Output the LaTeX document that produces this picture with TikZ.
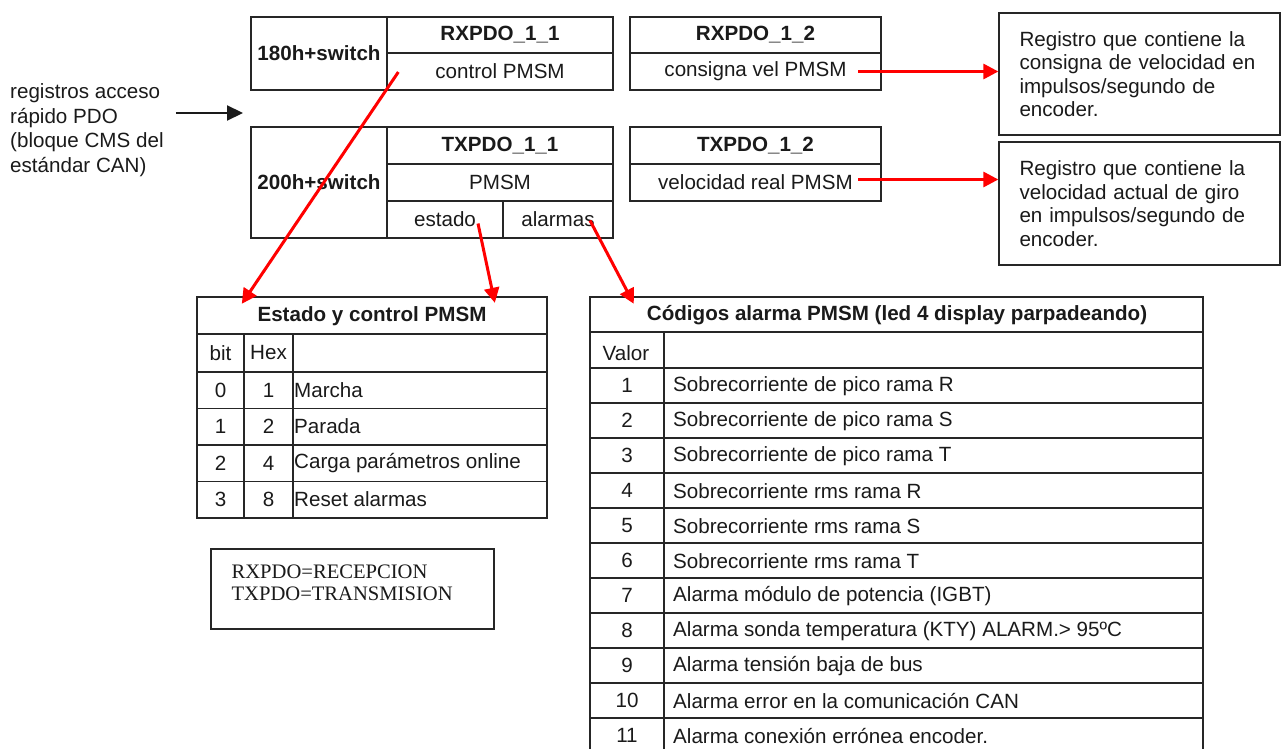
\documentclass[tikz,border=0pt]{standalone}
\usepackage{fontspec}
\setmainfont{Liberation Sans}
\newfontfamily\legendfont{Liberation Serif}
\usetikzlibrary{arrows.meta,positioning,calc}
\definecolor{ink}{HTML}{1A1A1A}
\definecolor{rule}{HTML}{262626}
\definecolor{alert}{HTML}{FF0000}

\begin{document}
\begin{tikzpicture}[
  x=1pt, y=-1pt,
  font=\fontsize{20.6}{23.5}\selectfont, text=ink,
  cell/.style={draw=rule, line width=1.3pt, inner sep=0pt, minimum width=#1},
  cell/.default=226,
  hd/.style={font=\fontsize{20.6}{23.5}\selectfont\bfseries},
  note/.style={draw=rule, line width=1.3pt, inner sep=0pt, minimum width=281,
               text width=240, align=left},
  frame/.style={draw=rule, line width=2.4pt, inner sep=0pt},
  grid/.style={draw=rule, line width=1.1pt},
  ar/.style={-{Triangle[length=15pt,width=15pt]}, draw=alert, line width=3pt},
  blk/.style={-{Triangle[length=16pt,width=15pt]}, draw=ink, line width=2.2pt},
]
\useasboundingbox (0,0) rectangle (1282,749);
\clip (0,0) rectangle (1282,749);

%% ================= PDO registers : reception =================
\node[cell=136, minimum height=73, hd] (sw1) at (319,53.5) {180h+switch};
\node[cell, minimum height=36, hd] (rx11) at (500,35) {RXPDO\_1\_1};
\node[cell, minimum height=37] (ctl) at (500,71.5) {control PMSM};
\node[cell=251, minimum height=36, hd] (rx12) at (755.5,35) {RXPDO\_1\_2};
\node[cell=251, minimum height=37] (cons) at (755.5,71.5) {consigna vel PMSM};

%% ================= PDO registers : transmission =================
\node[cell=136, minimum height=111, hd] (sw2) at (319,182.5) {200h+switch};
\node[cell, minimum height=37, hd] (tx11) at (500,145.5) {TXPDO\_1\_1};
\node[cell, minimum height=37] (pm) at (500,182.5) {PMSM};
\node[cell=116, minimum height=37] (est) at (445,219.5) {estado};
\node[cell=110, minimum height=37] (alm) at (558,219.5) {alarmas};
\node[cell=251, minimum height=37, hd] (tx12) at (755.5,145.5) {TXPDO\_1\_2};
\node[cell=251, minimum height=37] (vel) at (755.5,182.5) {velocidad real PMSM};

%% ================= side notes =================
\node[anchor=west, align=left, inner sep=0pt,
      font=\fontsize{20.6}{24.6}\selectfont] (pdo) at (10,130)
  {registros acceso\\rápido PDO\\(bloque CMS del\\estándar CAN)};
\coordinate (pdoin) at (243,113);
\draw[blk] ($(pdo.east |- pdoin)+(12,0)$) -- (pdoin);

\node[note, minimum height=122] (note1) at (1139.5,74)
  {Registro que contiene la\\consigna de velocidad en\\impulsos/segundo de\\encoder.};
\node[note, minimum height=123] (note2) at (1139.5,203.5)
  {Registro que contiene la\\velocidad actual de giro\\en impulsos/segundo de\\encoder.};

\coordinate (c0) at ($(cons.center)+(102.5,0)$);
\coordinate (v0) at ($(vel.center)+(102.5,-3)$);
\draw[ar] (c0) -- (note1.west |- c0);
\draw[ar] (v0) -- (note2.west |- v0);

%% ================= table : estado y control =================
\node[frame, minimum width=350, minimum height=221] (etab) at (372,407.5) {};
\draw[grid] (197,334) -- (547,334);
\foreach \k in {0,...,3}
  \draw[grid] (197,372+36.5*\k) -- (547,372+36.5*\k);
\draw[grid] (244,334) -- (244,518);
\draw[grid] (293,334) -- (293,518);
\node[hd] (etitle) at (372,316) {Estado y control PMSM};
\node (bith) at (220.5,353) {bit};
\node (hexh) at (268.5,353) {Hex};
\foreach \b/\h/\t [count=\i from 0] in {0/1/Marcha, 1/2/Parada,
    2/4/Carga parámetros online, 3/8/Reset alarmas}{
  \node (bit\i) at (220.5,390+36.5*\i) {\b};
  \node (hex\i) at (268.5,390+36.5*\i) {\h};
  \node[anchor=west, inner xsep=1pt] (txt\i) at (293,390+36.5*\i) {\t};
}

%% ================= table : codigos alarma =================
\node[frame, minimum width=613, minimum height=470] (atab) at (896.5,532) {};
\draw[grid] (590,332) -- (1203,332);
\foreach \k in {0,...,10}
  \draw[grid] (590,368+35*\k) -- (1203,368+35*\k);
\draw[grid] (664,332) -- (664,767);
\node[hd] (atitle) at (897,315) {Códigos alarma PMSM (led 4 display parpadeando)};
\node (valh) at (626,353) {Valor};
\foreach \t [count=\i] in {Sobrecorriente de pico rama R,
    Sobrecorriente de pico rama S, Sobrecorriente de pico rama T,
    Sobrecorriente rms rama R, Sobrecorriente rms rama S,
    Sobrecorriente rms rama T, Alarma módulo de potencia (IGBT),
    Alarma sonda temperatura (KTY) ALARM.> 95ºC,
    Alarma tensión baja de bus, Alarma error en la comunicación CAN,
    Alarma conexión errónea encoder.}{
  \node (val\i) at (627,350.5+35*\i) {\i};
  \node[anchor=west, inner sep=0pt] (alm\i) at (673,351+35*\i) {\t};
}

%% ================= legend =================
\node[draw=rule, line width=1.2pt, minimum width=283, minimum height=80] (leg) at (352.5,589) {};
\node[anchor=north west, align=left, inner sep=0pt,
      font=\legendfont\fontsize{20.6}{22}\selectfont] (legtxt)
  at ($(leg.north west)+(21,16)$) {RXPDO=RECEPCION\\TXPDO=TRANSMISION};

%% ================= links to the tables =================
\draw[ar] ($(ctl.west)+(12,0.5)$) -- ($(etab.north west)+(46,8)$);
\draw[ar] ($(est.center)+(33,4)$) -- ($(etab.north west)+(299,7)$);
\draw[ar] ($(alm.center)+(32,1)$) -- ($(atab.north west)+(45,8)$);

\end{tikzpicture}
\end{document}
